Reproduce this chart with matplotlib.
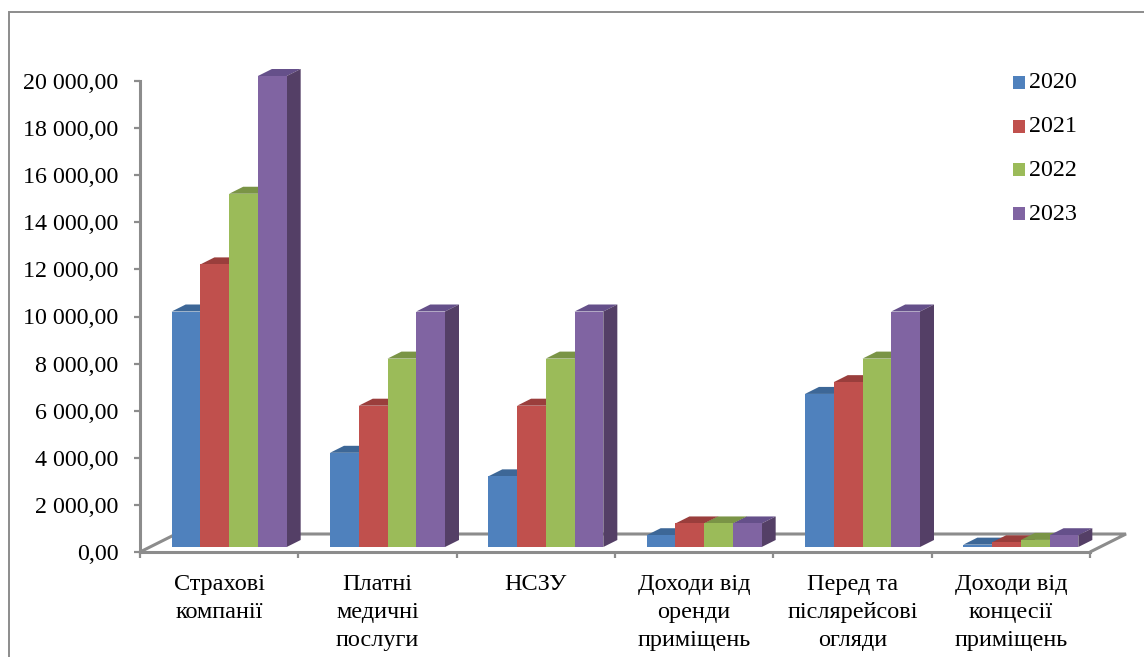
import matplotlib
matplotlib.use("Agg")
import matplotlib.pyplot as plt
from matplotlib.patches import Polygon, Rectangle

categories = [
    "Страхові\nкомпанії",
    "Платні\nмедичні\nпослуги",
    "НСЗУ",
    "Доходи від\nоренди\nприміщень",
    "Перед та\nпіслярейсові\nогляди",
    "Доходи від\nконцесії\nприміщень",
]
years = ["2020", "2021", "2022", "2023"]
values_2020 = [10000, 4000, 3000, 500, 6500, 100]
values_2021 = [12000, 6000, 6000, 1000, 7000, 200]
values_2022 = [15000, 8000, 8000, 1000, 8000, 300]
values_2023 = [20000, 10000, 10000, 1000, 10000, 500]
series = [values_2020, values_2021, values_2022, values_2023]
y_ticks = list(range(0, 20001, 2000))

front = ["#4F81BD", "#C0504D", "#9BBB59", "#8064A2"]
top = ["#3D6797", "#9A3E3C", "#7A9446", "#65508A"]
side = ["#35577F", "#823533", "#677D3B", "#543F66"]
GRID = "#8C8C8C"

W, H = 1144, 657
plt.rcParams["font.family"] = "Liberation Serif"

fig = plt.figure(figsize=(W / 100, H / 100), dpi=100)


def px_box(x0, y0, x1, y1):
    return [x0 / W, 1 - y1 / H, (x1 - x0) / W, (y1 - y0) / H]


ax = fig.add_axes(px_box(140, 81, 1090, 552))
ax.set_xlim(0, len(categories))
ax.set_ylim(0, 20000)
ax.patch.set_alpha(0)
for s in ["top", "right"]:
    ax.spines[s].set_visible(False)
for s in ["left", "bottom"]:
    ax.spines[s].set_color(GRID)
    ax.spines[s].set_linewidth(2.2)

# pixel sizes of the fake 3d effect, in data units
ux = len(categories) / 950
uy = 20000 / 471
depth_x, depth_y = 14 * ux, 7 * uy
shift_x, shift_y = 10 * ux, 5 * uy
bar_w = 28.75 * ux

# floor
floor_dx, floor_dy = 36 * ux, 18 * uy
n = len(categories)
ax.add_patch(Polygon(
    [(0, 0), (floor_dx, floor_dy), (n + floor_dx, floor_dy), (n, 0)],
    closed=False, fill=False, edgecolor=GRID, lw=2.2, clip_on=False, zorder=1,
))

for c in range(n):
    x0 = c + 0.5 + shift_x - 2 * bar_w
    for i, vals in enumerate(series):
        left = x0 + i * bar_w
        v = vals[c]
        ax.add_patch(Rectangle((left, shift_y), bar_w, v, fc=front[i], ec="none", zorder=3 + i * 0.1, clip_on=False))
        ax.add_patch(Polygon(
            [(left, shift_y + v), (left + depth_x, shift_y + v + depth_y),
             (left + bar_w + depth_x, shift_y + v + depth_y), (left + bar_w, shift_y + v)],
            fc=top[i], ec="none", zorder=2 + i * 0.1, clip_on=False,
        ))
        ax.add_patch(Polygon(
            [(left + bar_w, shift_y), (left + bar_w + depth_x, shift_y + depth_y),
             (left + bar_w + depth_x, shift_y + v + depth_y), (left + bar_w, shift_y + v)],
            fc=side[i], ec="none", zorder=2 + i * 0.1, clip_on=False,
        ))

ax.set_yticks(y_ticks)
ax.set_yticklabels([f"{t:,.2f}".replace(",", " ").replace(".", ",") for t in y_ticks])
ax.set_xticks(range(n + 1))
ax.set_xticklabels([""] * (n + 1))
ax.tick_params(axis="both", color=GRID, width=1.6, length=4.5)
ax.tick_params(axis="y", labelsize=17.3, pad=11, labelcolor="black")

for c, label in enumerate(categories):
    ax.annotate(label, (c + 0.5, 0), xytext=(0, -15.5), textcoords="offset points",
                ha="center", va="top", fontsize=17.5, linespacing=1.45)

# legend by hand so spacing follows the original
for i, y in enumerate(years):
    ypx = 82.5 + i * 43.7
    fig.add_artist(Rectangle((1013 / W, 1 - (ypx + 6.5) / H), 12 / W, 13 / H,
                             fc=front[i], ec="none", transform=fig.transFigure))
    fig.text(1029 / W, 1 - (ypx + 0.5) / H, y, fontsize=17.3, va="center", ha="left")

# chart frame, right and bottom sides fall outside the crop
fig.add_artist(Rectangle((8.5 / W, 1 - 700 / H), 1200 / W, 688.5 / H, fill=False,
                         ec=GRID, lw=1.4, transform=fig.transFigure))

fig.savefig("out.png", dpi=100)
